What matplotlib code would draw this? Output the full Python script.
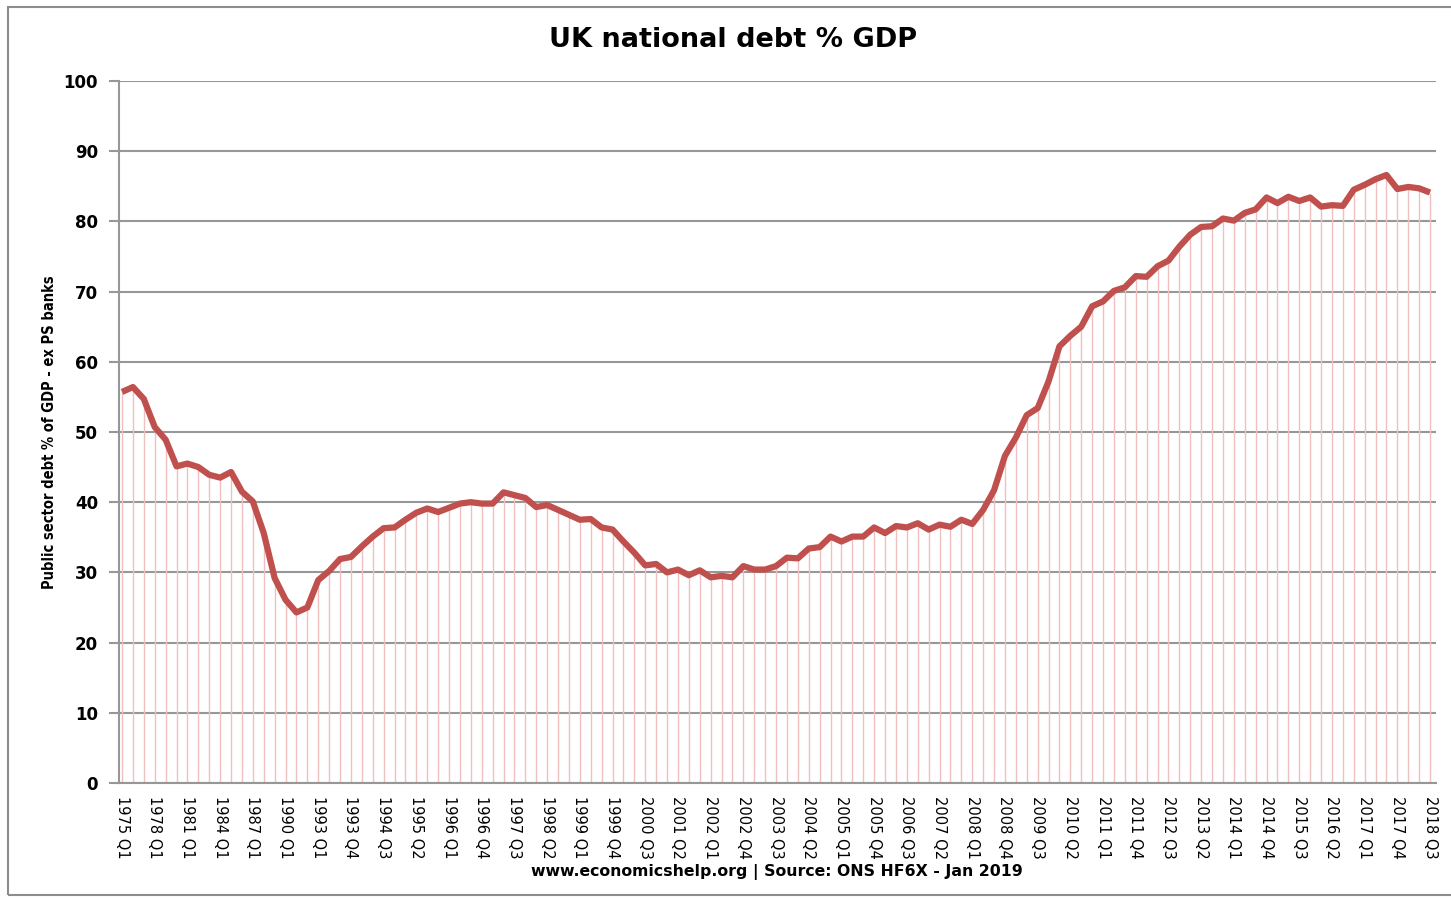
import matplotlib
matplotlib.use("Agg")
import matplotlib.pyplot as plt
from matplotlib.patches import Rectangle

# categories: annual (Q1) up to 1992, quarterly from 1993 Q1 to 2018 Q3
years_annual = list(range(1975, 1993))
categories = [f"{y} Q1" for y in years_annual]
categories += [f"{y} Q{q}" for y in range(1993, 2019) for q in range(1, 5)]
categories = categories[:categories.index("2018 Q3") + 1]

debt_pct = [
    55.7, 56.4, 54.7, 50.7, 48.9, 45.1, 45.5, 45.0, 43.9, 43.5,
    44.3, 41.5, 40.1, 35.6, 29.2, 26.1, 24.3, 25.0, 28.9, 30.2,
    31.9, 32.2, 33.7, 35.1, 36.3, 36.4, 37.5, 38.5, 39.1, 38.6,
    39.2, 39.8, 40.0, 39.8, 39.8, 41.4, 41.0, 40.6, 39.3, 39.6,
    38.9, 38.2, 37.5, 37.6, 36.4, 36.1, 34.4, 32.8, 31.0, 31.2,
    30.0, 30.4, 29.6, 30.3, 29.3, 29.5, 29.3, 30.9, 30.4, 30.4,
    30.9, 32.1, 32.0, 33.4, 33.6, 35.1, 34.4, 35.1, 35.1, 36.4,
    35.6, 36.6, 36.4, 37.0, 36.1, 36.8, 36.5, 37.5, 36.9, 38.9,
    41.7, 46.6, 49.2, 52.4, 53.4, 57.2, 62.2, 63.7, 65.0, 67.9,
    68.6, 70.1, 70.6, 72.2, 72.1, 73.6, 74.4, 76.4, 78.1, 79.2,
    79.3, 80.4, 80.1, 81.2, 81.7, 83.4, 82.6, 83.5, 82.9, 83.4,
    82.1, 82.3, 82.2, 84.5, 85.2, 86.0, 86.6, 84.6, 84.9, 84.7,
    84.1,
]

tick_labels = [
    "1975 Q1", "1978 Q1", "1981 Q1", "1984 Q1", "1987 Q1", "1990 Q1",
    "1993 Q1", "1993 Q4", "1994 Q3", "1995 Q2", "1996 Q1", "1996 Q4",
    "1997 Q3", "1998 Q2", "1999 Q1", "1999 Q4", "2000 Q3", "2001 Q2",
    "2002 Q1", "2002 Q4", "2003 Q3", "2004 Q2", "2005 Q1", "2005 Q4",
    "2006 Q3", "2007 Q2", "2008 Q1", "2008 Q4", "2009 Q3", "2010 Q2",
    "2011 Q1", "2011 Q4", "2012 Q3", "2013 Q2", "2014 Q1", "2014 Q4",
    "2015 Q3", "2016 Q2", "2017 Q1", "2017 Q4", "2018 Q3",
]

x = list(range(len(categories)))
tick_pos = [categories.index(t) for t in tick_labels]

fig = plt.figure(figsize=(14.51, 8.99), dpi=100)
ax = fig.add_axes([0.082, 0.129, 0.9077, 0.781])

grid_col = "#979797"
ax.vlines(x, 0, debt_pct, color="#F0C0C0", linewidth=1.0, zorder=2)
ax.plot(x, debt_pct, color="#C0504D", linewidth=4.5, solid_joinstyle="round",
        solid_capstyle="butt", zorder=3)

ax.set_ylim(0, 100)
ax.set_xlim(-0.28, 120.55)
ax.set_yticks(range(0, 101, 10))
ax.yaxis.grid(True, color=grid_col, linewidth=1.5, zorder=1)
ax.set_axisbelow(True)

ax.set_xticks(tick_pos)
ax.set_xticklabels(tick_labels, rotation=270, fontsize=10.5,
                   family="DejaVu Sans")
ax.tick_params(axis="x", length=0, pad=9)
ax.tick_params(axis="y", length=7, width=1.5, color=grid_col, labelsize=12,
               pad=8)
for lab in ax.get_yticklabels():
    lab.set_fontweight("bold")

for side in ("top", "right"):
    ax.spines[side].set_visible(False)
for side in ("left", "bottom"):
    ax.spines[side].set_color(grid_col)
    ax.spines[side].set_linewidth(1.5)

ax.set_ylabel("Public sector debt % of GDP - ex PS banks",
              family="DejaVu Sans", fontstretch="condensed",
              fontweight="bold", fontsize=10.5, labelpad=5)

fig.text(0.505, 0.955, "UK national debt % GDP", ha="center", va="center",
         fontsize=19.5, fontweight="bold")
fig.text(0.5355, 0.030, "www.economicshelp.org | Source: ONS HF6X - Jan 2019",
         ha="center", va="center", fontsize=11.3, fontweight="bold")

fig.patches.append(Rectangle((8 / 1451, 4 / 899), 1.2, 1 - 11 / 899,
                             transform=fig.transFigure, fill=False,
                             edgecolor="#8C8C8C", linewidth=1.5))

fig.savefig("out.png", dpi=100, facecolor="white")
